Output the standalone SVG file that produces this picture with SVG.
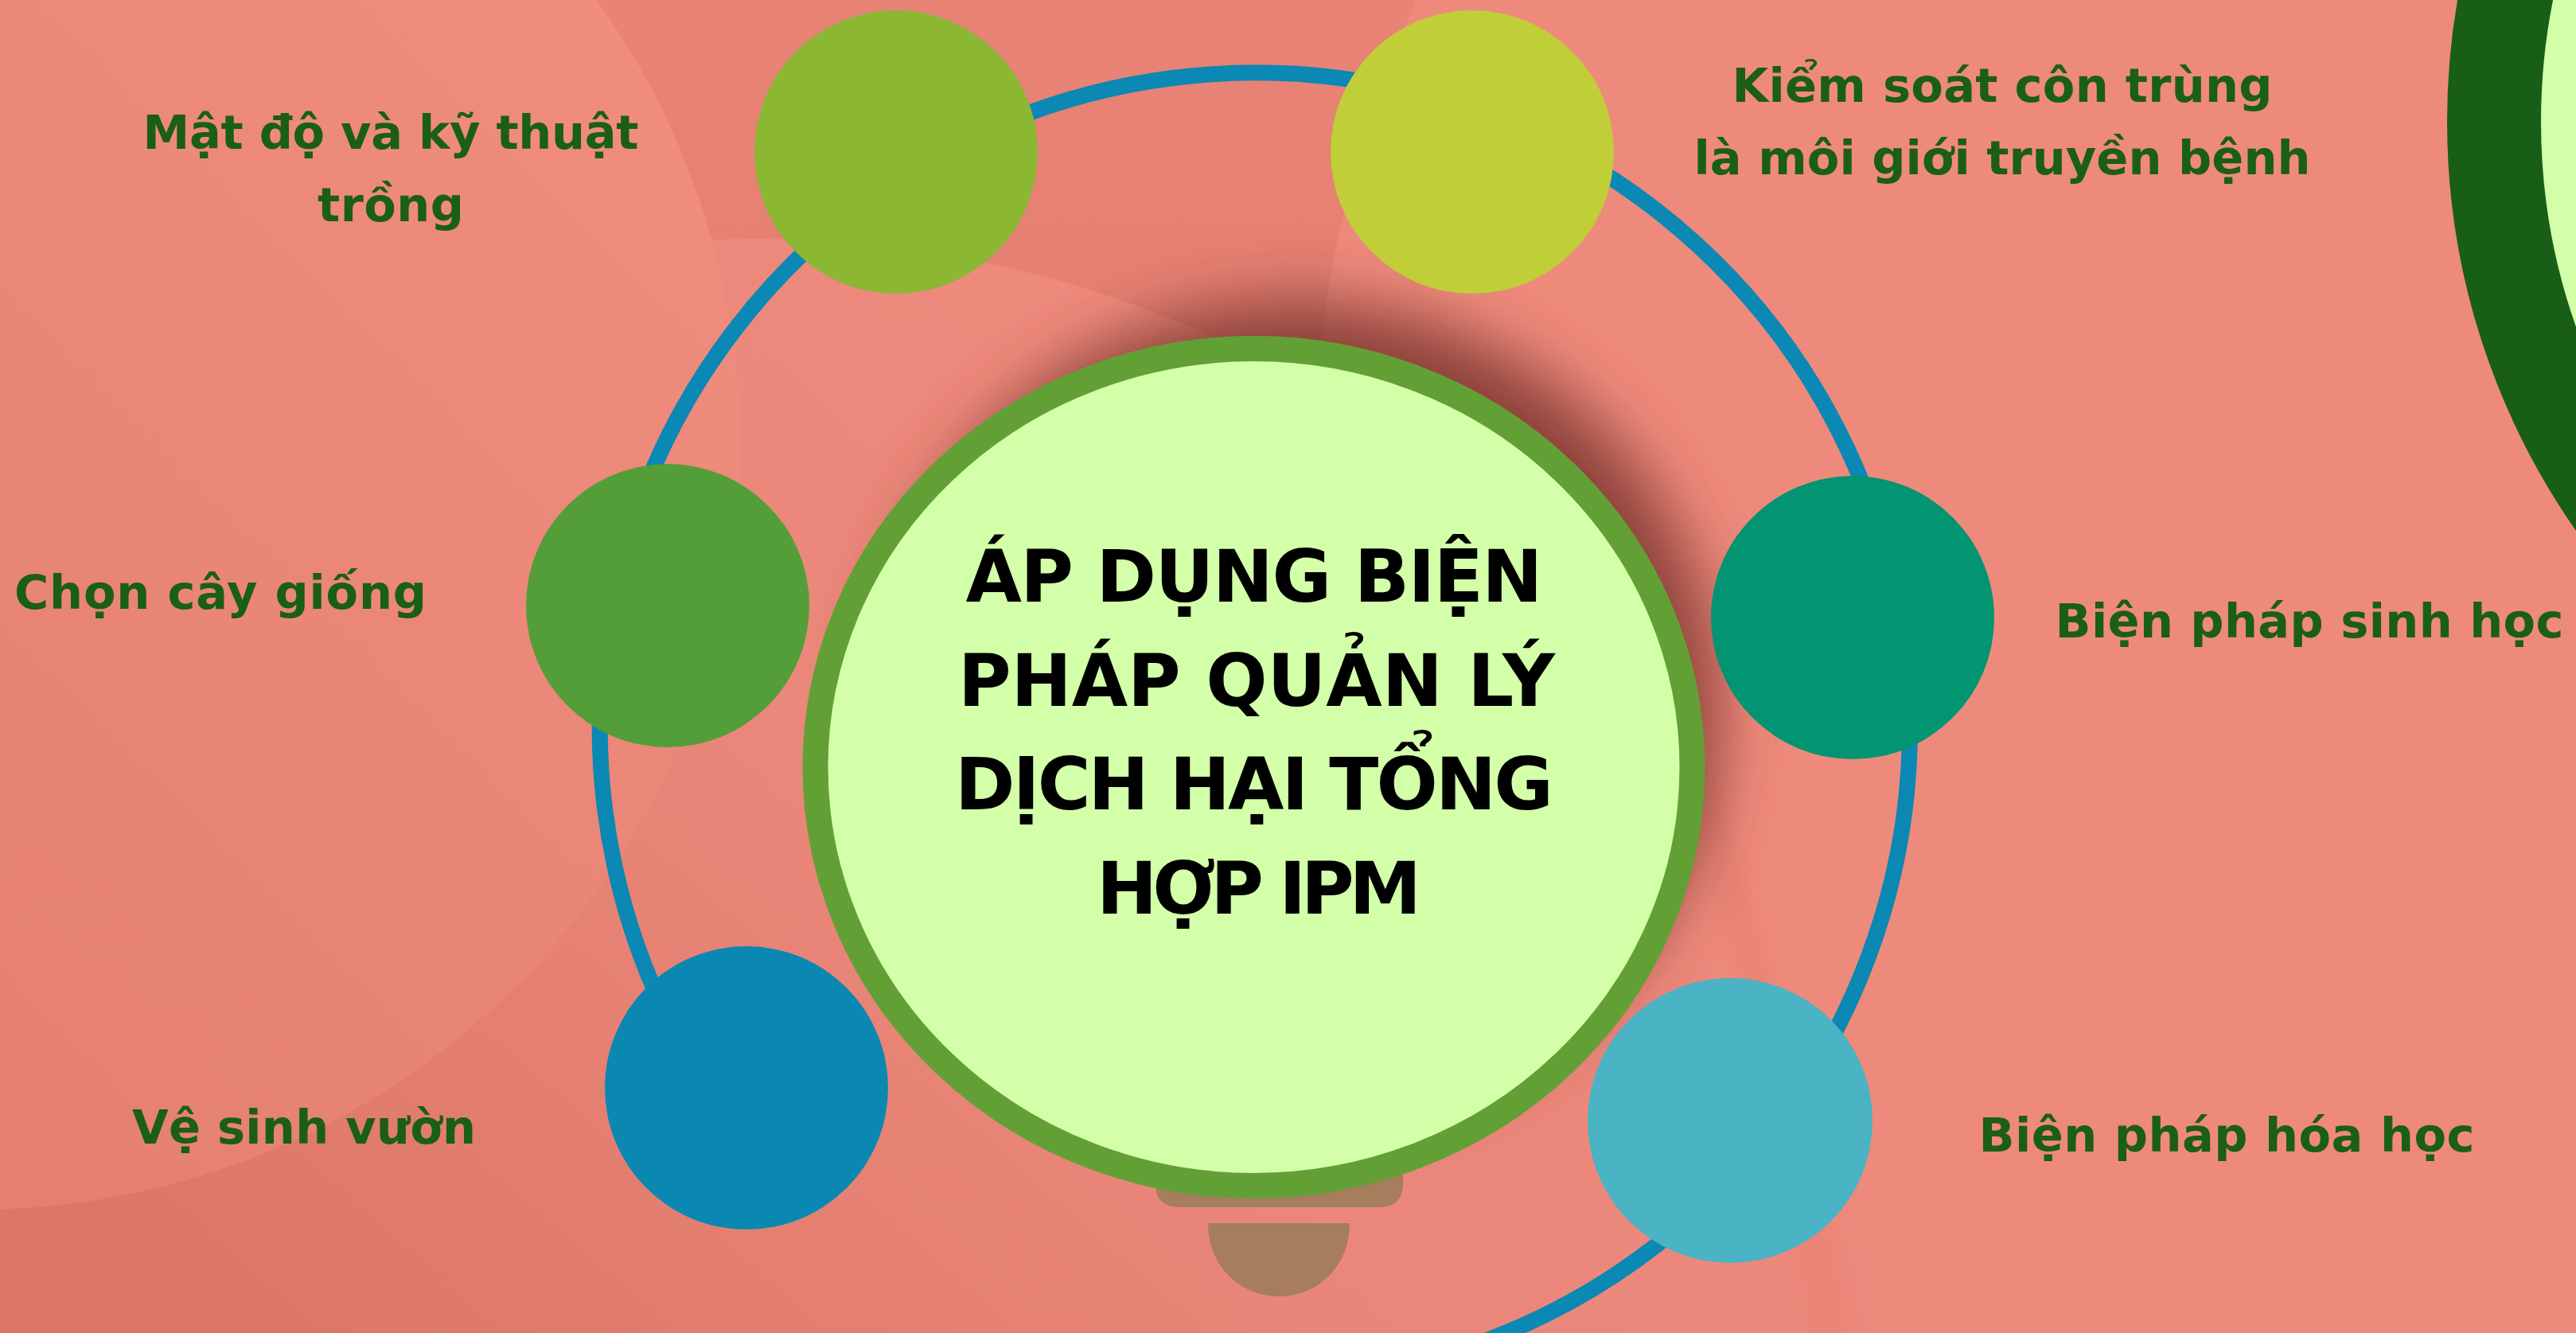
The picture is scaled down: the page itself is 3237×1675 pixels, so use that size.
<svg xmlns="http://www.w3.org/2000/svg" width="3237" height="1675" viewBox="0 0 3237 1675">
  <defs>
    <style>
      .lbl{font-family:"DejaVu Sans","Liberation Sans",sans-serif;font-weight:bold;font-size:59px;fill:#1B5E17;text-anchor:middle}
      .title{font-family:"DejaVu Sans","Liberation Sans",sans-serif;font-weight:bold;font-size:91px;fill:#000000;text-anchor:middle}
      .sat{stroke:none}
      .link{fill:none;stroke:#0B88B3;stroke-width:20}
      .bulb{fill:#A67D5D}
    </style>
    <filter id="shadowBlur" x="-50%" y="-50%" width="200%" height="200%">
      <feGaussianBlur stdDeviation="40"/>
    </filter>
    <filter id="softEdge" x="-20%" y="-20%" width="140%" height="140%">
      <feGaussianBlur stdDeviation="14"/>
    </filter>
    <linearGradient id="baseGrad" x1="0" y1="0" x2="0" y2="1">
      <stop offset="0" stop-color="#E88376"/>
      <stop offset="1" stop-color="#DA7565"/>
    </linearGradient>
    <linearGradient id="leftGrad" x1="0.9" y1="0.1" x2="0.1" y2="0.9">
      <stop offset="0" stop-color="#F18E80"/>
      <stop offset="1" stop-color="#E17C6D"/>
    </linearGradient>
    <linearGradient id="midGrad" gradientUnits="userSpaceOnUse" x1="1500" y1="300" x2="300" y2="1675">
      <stop offset="0" stop-color="#EF8B7D"/>
      <stop offset="0.45" stop-color="#EB877A"/>
      <stop offset="1" stop-color="#DC7767"/>
    </linearGradient>
  </defs>

  <g id="background">
    <rect x="0" y="0" width="3237" height="1675" fill="url(#baseGrad)"/>
    <circle cx="3100" cy="600" r="1450" fill="#EE8A7C"/>
    <circle cx="950" cy="1700" r="1400" fill="url(#midGrad)"/>
    <path d="M2140 980 Q2230 1300 2300 1675" fill="none" stroke="#D87264" stroke-width="30" opacity="0.3" filter="url(#softEdge)"/>
    <circle cx="-30" cy="560" r="960" fill="url(#leftGrad)"/>
  </g>

  <g id="deco-ring">
    <circle cx="3970" cy="153" r="836" fill="#D4FFA9" stroke="#195E16" stroke-width="118"/>
  </g>

  <g id="center-shadow">
    <ellipse cx="1630" cy="895" rx="530" ry="515" fill="#7A362D" opacity="0.85" filter="url(#shadowBlur)"/>
  </g>

  <g id="connectors">
    <path class="link" d="M903 1387 A823 823 0 1 1 1858 1688"/>
  </g>

  <g id="center-node">
    <path class="bulb" d="M1452 1380 L1763 1380 L1763 1487 Q1763 1517 1733 1517 L1482 1517 Q1452 1517 1452 1487 Z"/>
    <path class="bulb" d="M1518 1537 L1696 1537 C1696 1592 1655 1629 1607 1629 C1559 1629 1518 1592 1518 1537 Z"/>
    <ellipse cx="1575.5" cy="964" rx="551" ry="526" fill="#D3FFA9" stroke="#62A036" stroke-width="32"/>
    <text class="title" x="1576" y="756" textLength="725">ÁP DỤNG BIỆN</text>
    <text class="title" x="1579" y="887" textLength="750">PHÁP QUẢN LÝ</text>
    <text class="title" x="1576" y="1017" textLength="752">DỊCH HẠI TỔNG</text>
    <text class="title" x="1582" y="1148" textLength="408">HỢP IPM</text>
  </g>

  <g id="node-mat-do">
    <circle class="sat" cx="1126" cy="191" r="178" fill="#8BB733"/>
    <text class="lbl" x="491" y="187" textLength="623">Mật độ và kỹ thuật</text>
    <text class="lbl" x="491" y="278" textLength="184">trồng</text>
  </g>

  <g id="node-kiem-soat">
    <circle class="sat" cx="1850" cy="191" r="178" fill="#C0CF38"/>
    <text class="lbl" x="2516" y="128" textLength="679">Kiểm soát côn trùng</text>
    <text class="lbl" x="2516" y="219" textLength="775">là môi giới truyền bệnh</text>
  </g>

  <g id="node-chon-cay">
    <circle class="sat" cx="839" cy="761" r="178" fill="#539E38"/>
    <text class="lbl" x="277" y="765" textLength="518">Chọn cây giống</text>
  </g>

  <g id="node-sinh-hoc">
    <circle class="sat" cx="2328" cy="776" r="178" fill="#039472"/>
    <text class="lbl" x="2902" y="801" textLength="639">Biện pháp sinh học</text>
  </g>

  <g id="node-ve-sinh">
    <circle class="sat" cx="938" cy="1367" r="178" fill="#0A88B2"/>
    <text class="lbl" x="382" y="1437" textLength="432">Vệ sinh vườn</text>
  </g>

  <g id="node-hoa-hoc">
    <circle class="sat" cx="2174" cy="1408" r="179" fill="#4AB3C4"/>
    <text class="lbl" x="2798" y="1447" textLength="623">Biện pháp hóa học</text>
  </g>
</svg>
